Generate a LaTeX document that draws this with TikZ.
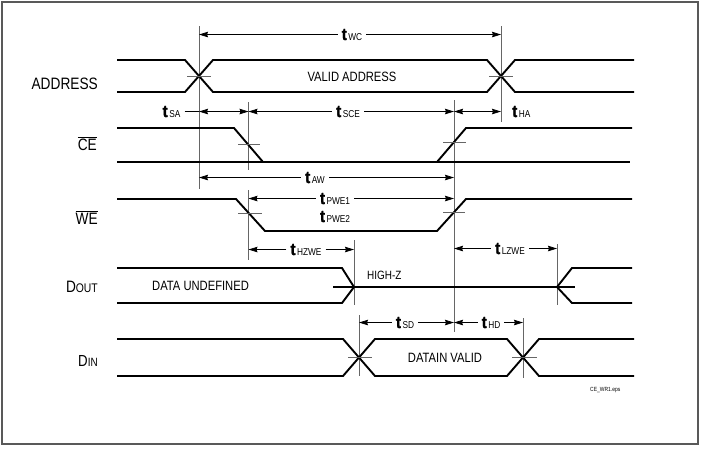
\documentclass[tikz,border=0pt]{standalone}
\usepackage{fontspec}
\setmainfont{Liberation Sans}[FakeStretch=0.83,BoldFont={Liberation Sans Bold}]
\newfontfamily\tfont{Liberation Sans Bold}[FakeStretch=0.9,FakeBold=1.5]
\usetikzlibrary{arrows.meta}
\newcommand\tname[1]{{\tfont\fontsize{17}{17}\selectfont t}\kern1.5pt{\fontsize{10}{10}\selectfont #1}}
\newcommand\sz[1]{\fontsize{#1}{#1}\selectfont}
\begin{document}
\begin{tikzpicture}[x=1pt,y=-1pt,
  sig/.style={line width=1.9pt,black},
  guide/.style={line width=0.8pt,black!60},
  tickmark/.style={line width=0.8pt,black!60},
  dim/.style={line width=0.7pt,-{Stealth[length=9pt,width=5.5pt,inset=1pt]}},
  ddim/.style={line width=0.7pt,{Stealth[length=9pt,width=5.5pt,inset=1pt]}-{Stealth[length=9pt,width=5.5pt,inset=1pt]}},
  tlab/.style={inner xsep=4pt,inner ysep=0pt,anchor=base},
  siglab/.style={anchor=base east,inner sep=0pt},
  txt/.style={anchor=base,inner sep=0pt}
]
\useasboundingbox (0,0) rectangle (705,450);
\draw[line width=1.6pt,black!65] (2,2) rectangle (698,444);

% x positions of the reference lines
\coordinate (xA) at (199,0);
\coordinate (xB) at (248.5,0);
\coordinate (xC) at (454,0);
\coordinate (xD) at (501,0);
\coordinate (xE) at (354,0);
\coordinate (xF) at (557,0);
\coordinate (xG) at (359,0);
\coordinate (xH) at (523,0);

% guide lines
\draw[guide] (199,26) -- (199,189);
\draw[guide] (501,26) -- (501,122);
\draw[guide] (248.5,102) -- (248.5,170);
\draw[guide] (248.5,190) -- (248.5,260);
\draw[guide] (454,100) -- (454,332);
\draw[guide] (354,240) -- (354,305);
\draw[guide] (557,244) -- (557,305);
\draw[guide] (359,315) -- (359,376);
\draw[guide] (523,318) -- (523,378);

% signal labels
\node[siglab] (lAddr) at (98,89) {\sz{16.5}ADDRESS};
\node[siglab] (lCE) at (97,150) {\sz{16.5}$\overline{\hbox{CE}}$};
\node[siglab] (lWE) at (98,224) {\sz{16.5}$\overline{\hbox{WE}}$};
\node[siglab] (lDout) at (98,292) {\sz{16.5}D\sz{12.5}OUT};
\node[siglab] (lDin) at (98,366) {\sz{16}D\sz{12}IN};

% ADDRESS
\draw[sig] (117,60) -- (185,60) -- (213,92) -- (487,92) -- (515,60) -- (634,60);
\draw[sig] (117,92) -- (185,92) -- (213,60) -- (487,60) -- (515,92) -- (634,92);
\draw[tickmark] (187,76) -- (211,76);
\draw[tickmark] (489,76) -- (513,76);
\node[txt] (valid) at (352,81) {\sz{13.5}VALID ADDRESS};

% CE
\draw[sig] (117,128) -- (234,128) -- (263,162);
\draw[sig] (117,162) -- (630,162);
\draw[sig] (437,162) -- (466,128) -- (632,128);
\draw[tickmark] (238,144.5) -- (260,144.5);
\draw[tickmark] (443,142) -- (466,142);

% WE
\draw[sig] (117,199) -- (236,199) -- (265,231) -- (437,231) -- (466,199) -- (632,199);
\draw[tickmark] (238,213) -- (262,213);
\draw[tickmark] (443,212) -- (465,212);

% DOUT
\draw[sig] (117,268) -- (342,268) -- (354,287) -- (342,303) -- (117,303);
\draw[sig] (354,287) -- (575,287);
\draw[line width=1.2pt] (333,287) -- (354,287);
\draw[sig] (632,268) -- (572,268) -- (557,287) -- (572,303) -- (632,303);
\node[txt,anchor=base west] (undef) at (152,290) {\sz{13.5}DATA UNDEFINED};
\node[txt,anchor=base west] (hiz) at (367,279) {\sz{12}HIGH-Z};

% DIN
\draw[sig] (117,339) -- (343,339) -- (375,376) -- (507,376) -- (539,339) -- (634,339);
\draw[sig] (117,376) -- (343,376) -- (375,339) -- (507,339) -- (539,376) -- (634,376);
\draw[tickmark] (348,357.5) -- (372,357.5);
\draw[tickmark] (512,357.5) -- (537,357.5);
\node[txt] (dvalid) at (445,362) {\sz{13.5}DATAIN VALID};

% timing labels and arrows
\node[tlab] (twc) at (352,40) {\tname{WC}};
\draw[dim] (twc.west) -- (twc.west -| xA);
\draw[dim] (twc.east) -- (twc.east -| xD);

\node[tlab] (tsa) at (171.5,117) {\tname{SA}};
\draw[line width=0.7pt] (tsa.east) -- (tsa.east -| xA);
\coordinate (saL) at (tsa.east -| xA);
\coordinate (saR) at (tsa.east -| xB);
\draw[ddim] (saL) -- (saR);

\node[tlab] (tsce) at (348,117) {\tname{SCE}};
\draw[dim] (tsce.west) -- (tsce.west -| xB);
\draw[dim] (tsce.east) -- (tsce.east -| xC);

\node[tlab,anchor=base west] (tha) at (508,117) {\tname{HA}};
\coordinate (haL) at (tha.west -| xC);
\coordinate (haR) at (tha.west -| xD);
\draw[ddim] (haL) -- (haR);

\node[tlab] (taw) at (315,183) {\tname{AW}};
\draw[dim] (taw.west) -- (taw.west -| xA);
\draw[dim] (taw.east) -- (taw.east -| xC);

\node[tlab] (tpwe) at (335,204) {\tname{PWE1}};
\draw[dim] (tpwe.west) -- (tpwe.west -| xB);
\draw[dim] (tpwe.east) -- (tpwe.east -| xC);
\node[tlab] (tpwe2) at (335,222) {\tname{PWE2}};

\node[tlab] (thz) at (306,255) {\tname{HZWE}};
\draw[dim] (thz.west) -- (thz.west -| xB);
\draw[dim] (thz.east) -- (thz.east -| xE);

\node[tlab] (tlz) at (510,254) {\tname{LZWE}};
\draw[dim] (tlz.west) -- (tlz.west -| xC);
\draw[dim] (tlz.east) -- (tlz.east -| xF);

\node[tlab] (tsd) at (405,328) {\tname{SD}};
\draw[dim] (tsd.west) -- (tsd.west -| xG);
\draw[dim] (tsd.east) -- (tsd.east -| xC);

\node[tlab] (thd) at (491,328) {\tname{HD}};
\draw[dim] (thd.west) -- (thd.west -| xC);
\draw[dim] (thd.east) -- (thd.east -| xH);

\node[txt,anchor=base west] (fname) at (590,391) {\sz{6}CE\_WR1.eps};
\end{tikzpicture}
\end{document}
